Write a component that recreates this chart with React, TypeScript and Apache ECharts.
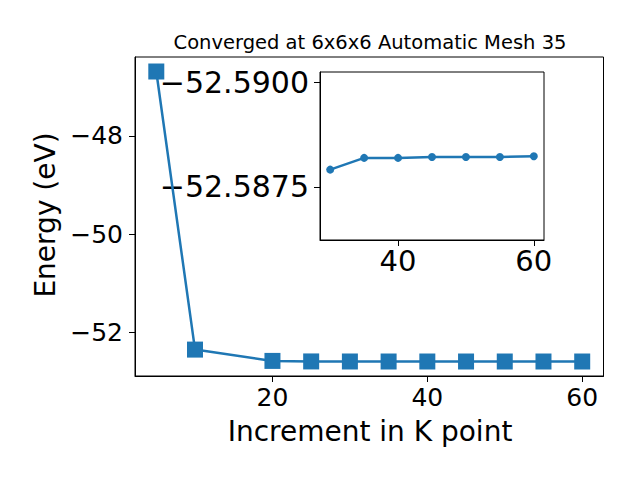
import React, { useEffect, useRef } from "react";
import * as echarts from "echarts";

const TITLE = "Converged at 6x6x6 Automatic Mesh 35";
const X_LABEL = "Increment in K point";
const Y_LABEL = "Energy (eV)";

const kPoints = [5, 10, 20, 25, 30, 35, 40, 45, 50, 55, 60];
const energies = [
  -46.69, -52.346, -52.576, -52.5868, -52.58791, -52.58819, -52.58819,
  -52.58821, -52.58821, -52.58821, -52.58823,
];
const INSET_FROM = 30;

const mainXTicks = [20, 40, 60];
const mainYTicks = [-52, -50, -48];
const insetXTicks = [40, 60];
const insetYTicks = [-52.59, -52.5875];

const FONT = "DejaVu Sans";
const BLUE = "#1f77b4";

const minus = (s: string) => s.replace("-", "\u2212");

export default function App() {
  const ref = useRef<HTMLDivElement>(null);
  useEffect(() => {
    if (!ref.current) return;
    const chart = echarts.init(ref.current, null, { renderer: "svg" });
    const mainData = kPoints.map((k, i) => [k, energies[i]]);
    const insetData = mainData.filter((d) => d[0] >= INSET_FROM);

    const axisCommon = (fs: number, margin: number, ticks: number[], fmt: (v: number) => string) => ({
      type: "value" as const,
      splitLine: { show: false },
      axisLine: { show: true, onZero: false, lineStyle: { color: "#000", width: 1 } },
      axisTick: { show: true, length: 6, customValues: ticks, lineStyle: { color: "#000", width: 1 } },
      axisLabel: {
        show: true,
        customValues: ticks,
        fontSize: fs,
        fontFamily: FONT,
        color: "#000",
        margin,
        formatter: fmt,
      },
    });

    chart.setOption({
      animation: false,
      backgroundColor: "#fff",
      grid: [
        {
          left: 135,
          top: 57,
          width: 468.5,
          height: 319,
          show: true,
          borderColor: "#000",
          borderWidth: 1,
          backgroundColor: "transparent",
          containLabel: false,
        },
        {
          left: 320,
          top: 72,
          width: 224,
          height: 168,
          show: true,
          borderColor: "#000",
          borderWidth: 1,
          backgroundColor: "#fff",
          containLabel: false,
        },
      ],
      xAxis: [
        {
          ...axisCommon(25, 9, mainXTicks, (v: number) => minus(String(v))),
          gridIndex: 0,
          min: 2.25,
          max: 62.75,
        },
        {
          ...axisCommon(29, 6, insetXTicks, (v: number) => minus(String(v))),
          gridIndex: 1,
          min: 28.5,
          max: 61.5,
        },
      ],
      yAxis: [
        {
          ...axisCommon(25, 12, mainYTicks, (v: number) => minus(String(v))),
          gridIndex: 0,
          min: -52.883,
          max: -46.395,
        },
        {
          ...axisCommon(30, 11, insetYTicks, (v: number) => minus(v.toFixed(4))),
          gridIndex: 1,
          inverse: true,
          min: -52.59024,
          max: -52.58623,
        },
      ],
      series: [
        {
          type: "line",
          xAxisIndex: 0,
          yAxisIndex: 0,
          data: mainData,
          symbol: "rect",
          symbolSize: 16,
          lineStyle: { color: BLUE, width: 2.5 },
          itemStyle: { color: BLUE },
          z: 3,
        },
        {
          type: "line",
          xAxisIndex: 1,
          yAxisIndex: 1,
          data: insetData,
          symbol: "circle",
          symbolSize: 8,
          lineStyle: { color: BLUE, width: 2.5 },
          itemStyle: { color: BLUE },
          z: 5,
        },
      ],
      graphic: [
        {
          type: "text",
          x: 370,
          y: 42,
          style: {
            text: TITLE,
            fontSize: 19.5,
            fontFamily: FONT,
            fill: "#000",
            align: "center",
            verticalAlign: "middle",
          },
        },
        {
          type: "text",
          x: 370,
          y: 431,
          style: {
            text: X_LABEL,
            fontSize: 28,
            fontFamily: FONT,
            fill: "#000",
            align: "center",
            verticalAlign: "middle",
          },
        },
        {
          type: "text",
          x: 45,
          y: 215,
          rotation: Math.PI / 2,
          style: {
            text: Y_LABEL,
            fontSize: 28,
            fontFamily: FONT,
            fill: "#000",
            align: "center",
            verticalAlign: "middle",
          },
        },
      ],
    });
    return () => chart.dispose();
  }, []);
  return (
    <div
      ref={ref}
      style={{ position: "absolute", left: 0, top: 0, width: 640, height: 480 }}
    />
  );
}
